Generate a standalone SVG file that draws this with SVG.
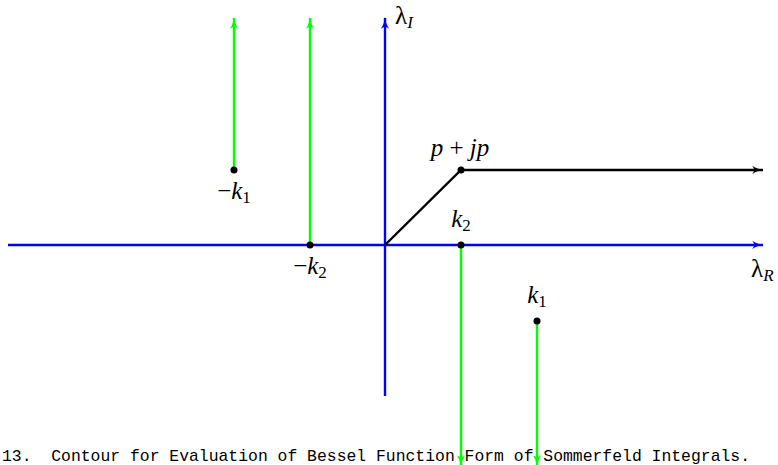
<svg xmlns="http://www.w3.org/2000/svg" width="778" height="465" viewBox="0 0 778 465">
<defs>
<marker id="ab" viewBox="0 0 10 10" refX="9" refY="5" markerWidth="5" markerHeight="5" orient="auto" markerUnits="strokeWidth"><path d="M0,1.5 Q4,4.5 10,5 Q4,5.5 0,8.5 Q3,5 0,1.5Z" fill="#0000ff"/></marker>
<marker id="ak" viewBox="0 0 10 10" refX="9" refY="5" markerWidth="5" markerHeight="5" orient="auto" markerUnits="strokeWidth"><path d="M0,1.5 Q4,4.5 10,5 Q4,5.5 0,8.5 Q3,5 0,1.5Z" fill="#000"/></marker>
<marker id="ag" viewBox="0 0 10 10" refX="9" refY="5" markerWidth="5" markerHeight="5" orient="auto" markerUnits="strokeWidth"><path d="M0,1.5 Q4,4.5 10,5 Q4,5.5 0,8.5 Q3,5 0,1.5Z" fill="#00ff00"/></marker>
</defs>
<g id="connectors" fill="none" stroke-width="2.4">
<line x1="8" y1="245" x2="763" y2="245" stroke="#0000ff" marker-end="url(#ab)"/>
<line x1="385" y1="396" x2="385" y2="18" stroke="#0000ff" marker-end="url(#ab)"/>
<polyline points="385,245 461,170 763,170" stroke="#000" marker-end="url(#ak)"/>
<line x1="234" y1="170" x2="234" y2="18" stroke="#00ff00" marker-end="url(#ag)"/>
<line x1="310" y1="245" x2="310" y2="18" stroke="#00ff00" marker-end="url(#ag)"/>
<line x1="461" y1="245" x2="461" y2="466" stroke="#00ff00" marker-end="url(#ag)"/>
<line x1="537" y1="321" x2="537" y2="466" stroke="#00ff00" marker-end="url(#ag)"/>
</g>
<g font-family="Liberation Serif, Times New Roman, serif" font-size="25" font-style="italic" fill="#000">
<g id="axis-labels">
<text x="395" y="24"><tspan font-style="normal">λ</tspan><tspan font-size="17" dy="4">I</tspan></text>
<text x="751" y="277"><tspan font-style="normal">λ</tspan><tspan font-size="17" dy="4">R</tspan></text>
</g>
<g id="node-pjp">
<circle cx="461" cy="170" r="3.5"/>
<text x="460" y="156" text-anchor="middle" xml:space="preserve">p <tspan font-style="normal">+</tspan> jp</text>
</g>
<g id="node-mk1">
<circle cx="234" cy="170" r="3.5"/>
<text x="234" y="199" text-anchor="middle"><tspan font-style="normal">−</tspan>k<tspan font-size="17" font-style="normal" dy="4">1</tspan></text>
</g>
<g id="node-mk2">
<circle cx="310" cy="245" r="3.5"/>
<text x="310" y="274" text-anchor="middle"><tspan font-style="normal">−</tspan>k<tspan font-size="17" font-style="normal" dy="4">2</tspan></text>
</g>
<g id="node-k2">
<circle cx="461" cy="245" r="3.5"/>
<text x="461" y="227" text-anchor="middle">k<tspan font-size="17" font-style="normal" dy="4">2</tspan></text>
</g>
<g id="node-k1">
<circle cx="537" cy="321" r="3.5"/>
<text x="537" y="303" text-anchor="middle">k<tspan font-size="17" font-style="normal" dy="4">1</tspan></text>
</g>
</g>
<text font-family="Liberation Mono, Courier New, monospace" font-size="17" fill="#000" x="2" y="461" textLength="748" lengthAdjust="spacingAndGlyphs" xml:space="preserve">13.  Contour for Evaluation of Bessel Function Form of Sommerfeld Integrals.</text>
</svg>
